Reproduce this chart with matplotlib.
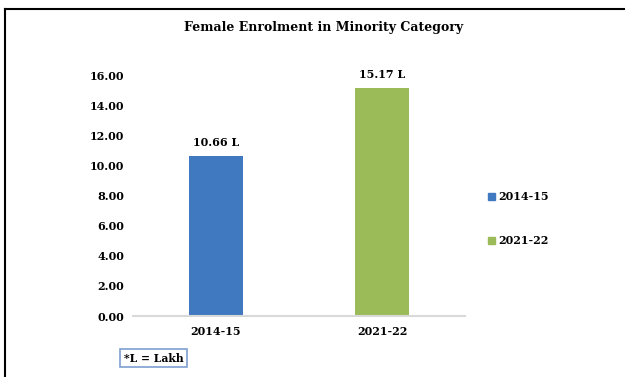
import matplotlib
matplotlib.use('Agg')
import matplotlib.pyplot as plt
from matplotlib.lines import Line2D
from matplotlib.patches import Patch

years = ['2014-15', '2021-22']
enrolment = [10.66, 15.17]  # lakh
colors = ['#4079bf', '#9bbb59']
yticks = [0, 2, 4, 6, 8, 10, 12, 14, 16]

plt.rcParams['font.family'] = 'DejaVu Serif'
plt.rcParams['font.weight'] = 'bold'

fig = plt.figure(figsize=(6.25, 3.77), dpi=100)
ax = fig.add_axes([0.2128, 0.1618, 0.5312, 0.7188])

x = range(len(years))
ax.bar(x, enrolment, width=0.32, color=colors)
for xi, v in zip(x, enrolment):
    ax.text(xi, v + 0.5, f'{v:.2f} L', ha='center', va='bottom',
            fontsize=8, fontweight='bold')

ax.set_xlim(-0.5, 1.5)
ax.set_ylim(0, 18)
ax.set_xticks(list(x))
ax.set_xticklabels(years, fontsize=8, fontweight='bold')
ax.set_yticks(yticks)
ax.set_yticklabels([f'{t:.2f}' for t in yticks], fontsize=8, fontweight='bold')
ax.tick_params(axis='y', length=0, pad=6.5)
ax.tick_params(axis='x', length=0, pad=7)
for s in ['top', 'right', 'left']:
    ax.spines[s].set_visible(False)
ax.spines['bottom'].set_color('#d9d9d9')
ax.spines['bottom'].set_linewidth(1.5)

fig.text(0.518, 0.928, 'Female Enrolment in Minority Category', ha='center',
         va='center', fontsize=9, fontweight='bold')

handles = [Patch(color=c, label=y) for c, y in zip(colors, years)]
fig.legend(handles=handles, loc='center left', bbox_to_anchor=(0.765, 0.42),
           frameon=False, fontsize=8, handlelength=0.6, handleheight=0.6,
           handletextpad=0.3, labelspacing=2.95)

fig.text(0.246, 0.05, '*L = Lakh', ha='center', va='center', fontsize=7.8,
         fontweight='bold',
         bbox=dict(boxstyle='square,pad=0.35', facecolor='white',
                   edgecolor='#7f9fcf', linewidth=1.2))

# outer frame: top and left edges
fig.add_artist(Line2D([0.008, 1.0], [0.976, 0.976], color='black', lw=1.5,
                      transform=fig.transFigure))
fig.add_artist(Line2D([0.008, 0.008], [0.0, 0.976], color='black', lw=1.5,
                      transform=fig.transFigure))

fig.savefig('out.png', dpi=100)
